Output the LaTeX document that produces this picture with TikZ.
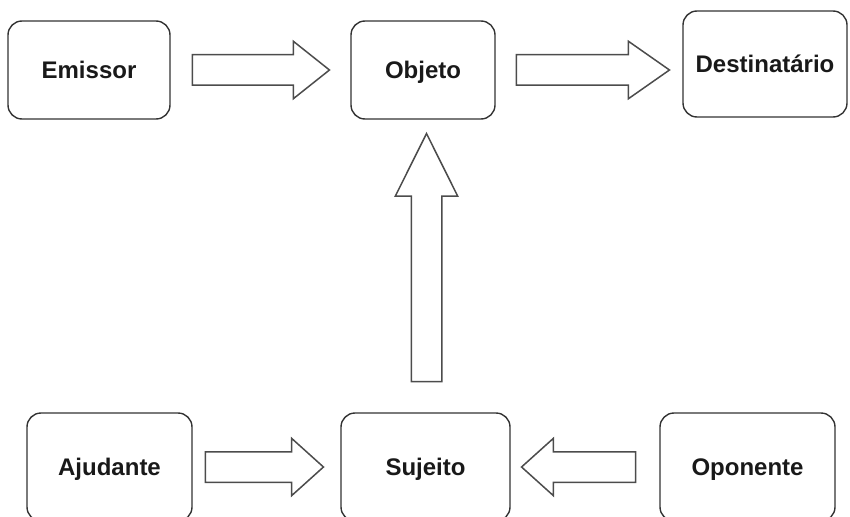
\documentclass[tikz,border=0pt]{standalone}
\usepackage{fontspec}
\setmainfont{Liberation Sans}
\usetikzlibrary{calc,shapes.arrows}
\tikzset{
	actant/.style={draw=black!80, line width=1.4pt, rounded corners=14pt, inner sep=0pt,
		font=\fontsize{24}{28}\selectfont\bfseries, text=black!90, text height=17pt, text depth=0pt},
	fatarrow/.style={single arrow, draw=black!70, line width=1.5pt, fill=white, anchor=tail,
		inner xsep=0pt, inner ysep=14.5pt, single arrow head extend=13.5pt, single arrow head indent=0pt}
}
\begin{document}
\begin{tikzpicture}[x=1pt, y=-1pt]
		\useasboundingbox (0,0) rectangle (850,516);
		
		% upper row
		\node[actant, minimum width=162, minimum height=98] (emissor) at (89,70) {Emissor};
		\node[actant, minimum width=144, minimum height=98] (objeto) at (423,70) {Objeto};
		\node[actant, minimum width=164, minimum height=106] (destinatario) at (765,64) {Destinatário};
		
		% lower row
		\node[actant, minimum width=165, minimum height=108] (ajudante) at (109.5,467) {Ajudante};
		\node[actant, minimum width=169, minimum height=108] (sujeito) at (425.5,467) {Sujeito};
		\node[actant, minimum width=175, minimum height=108] (oponente) at (747.5,467) {Oponente};
		
		% block arrows
		\node[fatarrow, minimum height=137, single arrow tip angle=77] (a1) at ($(emissor.east)+(21,0)$) {};
		\node[fatarrow, minimum height=153, single arrow tip angle=70] (a2) at ($(objeto.east)+(20,0)$) {};
		\node[fatarrow, minimum height=248, single arrow tip angle=53, single arrow head extend=16pt, rotate=90] (a3) at ($(sujeito.north)+(1,-30)$) {};
		\node[fatarrow, minimum height=118, single arrow tip angle=84] (a4) at ($(ajudante.east)+(12,0)$) {};
		\node[fatarrow, minimum height=114, single arrow tip angle=84, rotate=180] (a5) at ($(oponente.west)+(-23,0)$) {};
	\end{tikzpicture}
\end{document}
